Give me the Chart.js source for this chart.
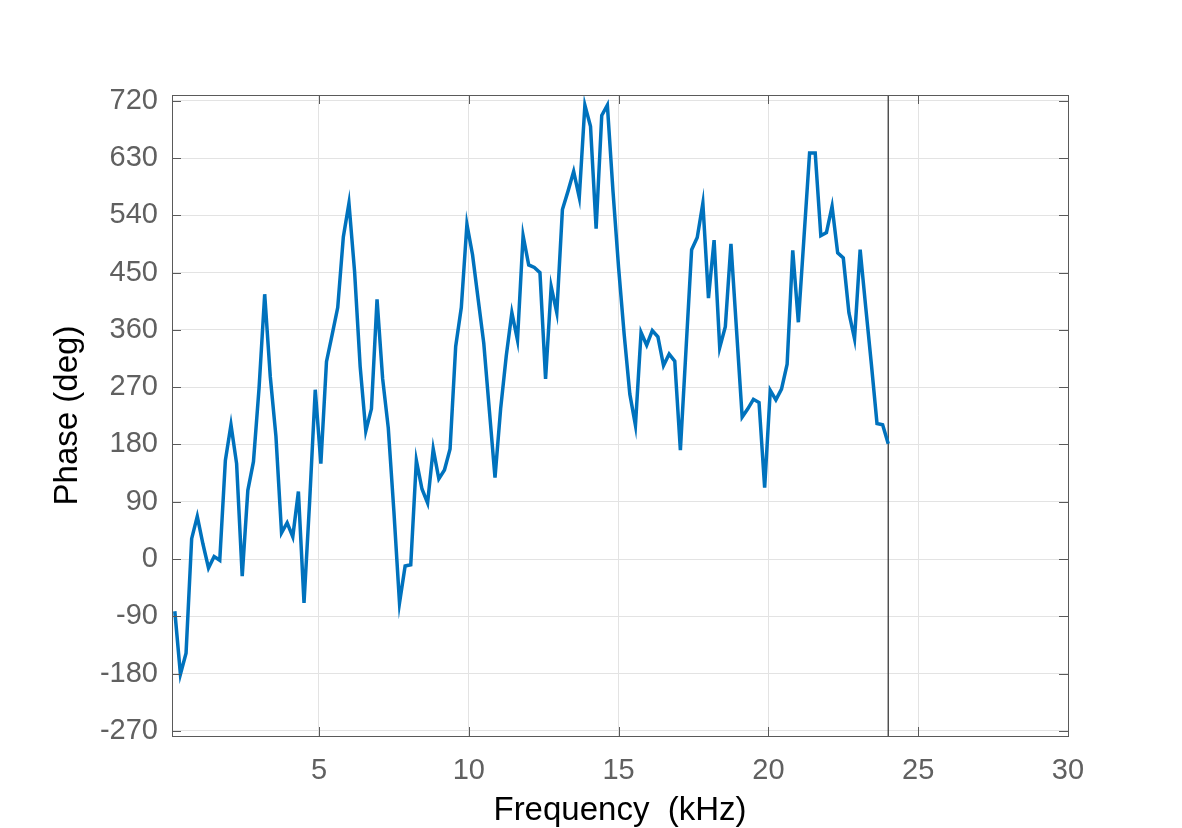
<!DOCTYPE html>
<html>
<head>
<meta charset="utf-8">
<script src="https://cdn.jsdelivr.net/npm/chart.js@4/dist/chart.umd.min.js"></script>
<style>
  html, body { margin: 0; padding: 0; background: #fff; }
  #wrap { width: 1182px; height: 828px; }
</style>
</head>
<body>
<div id="wrap"><canvas id="phaseChart" width="1182" height="828"></canvas></div>
<script>
// frequency bins (kHz)
var freqKHz = [
  0.1875, 0.375, 0.5625, 0.75, 0.9375, 1.125, 1.3125, 1.5, 1.6875, 1.875,
  2.0625, 2.25, 2.4375, 2.625, 2.8125, 3, 3.1875, 3.375, 3.5625, 3.75,
  3.9375, 4.125, 4.3125, 4.5, 4.6875, 4.875, 5.0625, 5.25, 5.4375, 5.625,
  5.8125, 6, 6.1875, 6.375, 6.5625, 6.75, 6.9375, 7.125, 7.3125, 7.5,
  7.6875, 7.875, 8.0625, 8.25, 8.4375, 8.625, 8.8125, 9, 9.1875, 9.375,
  9.5625, 9.75, 9.9375, 10.125, 10.3125, 10.5, 10.6875, 10.875, 11.0625, 11.25,
  11.4375, 11.625, 11.8125, 12, 12.1875, 12.375, 12.5625, 12.75, 12.9375, 13.125,
  13.3125, 13.5, 13.6875, 13.875, 14.0625, 14.25, 14.4375, 14.625, 14.8125, 15,
  15.1875, 15.375, 15.5625, 15.75, 15.9375, 16.125, 16.3125, 16.5, 16.6875, 16.875,
  17.0625, 17.25, 17.4375, 17.625, 17.8125, 18, 18.1875, 18.375, 18.5625, 18.75,
  18.9375, 19.125, 19.3125, 19.5, 19.6875, 19.875, 20.0625, 20.25, 20.4375, 20.625,
  20.8125, 21, 21.1875, 21.375, 21.5625, 21.75, 21.9375, 22.125, 22.3125, 22.5,
  22.6875, 22.875, 23.0625, 23.25, 23.4375, 23.625, 23.8125, 24
];

// unwrapped phase (deg)
var phaseDeg = [
  -82, -181, -148, 32, 67, 24, -14, 4, -2, 155,
  211, 150, -27, 108, 153, 269, 416, 286, 193, 41,
  57, 35, 106, -69, 90, 266, 150, 310, 352, 395,
  506, 559, 452, 302, 201, 236, 408, 283, 206, 75,
  -69, -11, -9, 155, 110, 88, 173, 126, 140, 173,
  334, 395, 526, 478, 408, 339, 233, 128, 236, 319,
  387, 344, 508, 462, 458, 450, 283, 428, 387, 549,
  578, 609, 568, 713, 680, 519, 697, 713, 578, 458,
  352, 259, 210, 356, 336, 359, 349, 304, 322, 311,
  171, 329, 486, 505, 559, 410, 501, 332, 365, 495,
  359, 223, 236, 251, 246, 112, 265, 250, 267, 306,
  485, 372, 505, 638, 638, 508, 513, 554, 481, 473,
  387, 346, 486, 395, 306, 213, 211, 181
];

var xTicks = [5, 10, 15, 20, 25, 30];
var yTicks = [-270, -180, -90, 0, 90, 180, 270, 360, 450, 540, 630, 720];
var xRange = [0.09375, 30];
var yRange = [-278, 729];
var nyquistKHz = 24;

var linePoints = freqKHz.map(function(f, i) {
    return { x: f, y: phaseDeg[i] };
});

// MATLAB style box with inward ticks
var boxPlugin = {
    id: 'boxPlugin',
    afterDraw: function(chart) {
        var ctx = chart.ctx;
        var a = chart.chartArea;
        var xs = chart.scales.x, ys = chart.scales.y;
        var tl = 9;
        ctx.save();
        ctx.strokeStyle = '#5a5a5a';
        ctx.lineWidth = 1;
        ctx.beginPath();
        xTicks.forEach(function(v) {
            var px = Math.round(xs.getPixelForValue(v)) + 0.5;
            ctx.moveTo(px, a.bottom); ctx.lineTo(px, a.bottom - tl);
            ctx.moveTo(px, a.top); ctx.lineTo(px, a.top + tl);
        });
        yTicks.forEach(function(v) {
            var py = Math.round(ys.getPixelForValue(v)) + 0.5;
            ctx.moveTo(a.left, py); ctx.lineTo(a.left + tl, py);
            ctx.moveTo(a.right, py); ctx.lineTo(a.right - tl, py);
        });
        ctx.stroke();
        ctx.strokeRect(Math.round(a.left) + 0.5, Math.round(a.top) + 0.5,
            Math.round(a.right - a.left), Math.round(a.bottom - a.top));
        ctx.restore();
    }
};

var ctx = document.getElementById('phaseChart').getContext('2d');
new Chart(ctx, {
    type: 'line',
    data: {
        datasets: [{
            data: linePoints,
            borderColor: '#0072BD',
            borderWidth: 3.5,
            pointRadius: 0,
            tension: 0,
            fill: false
        }, {
            data: [{ x: nyquistKHz, y: yRange[0] }, { x: nyquistKHz, y: yRange[1] }],
            borderColor: '#3a3a3a',
            borderWidth: 1.3,
            pointRadius: 0,
            fill: false
        }]
    },
    options: {
        responsive: false,
        animation: false,
        layout: { padding: { left: 0, right: 114, top: 95, bottom: 0 } },
        plugins: {
            legend: { display: false },
            tooltip: { enabled: false }
        },
        scales: {
            x: {
                type: 'linear',
                min: xRange[0],
                max: xRange[1],
                afterBuildTicks: function(scale) {
                    scale.ticks = xTicks.map(function(v) { return { value: v }; });
                },
                afterFit: function(scale) { scale.height = 92; },
                grid: { color: '#e3e3e3', drawTicks: false },
                border: { display: false },
                ticks: {
                    color: '#606060',
                    padding: 18,
                    maxRotation: 0,
                    font: { family: 'Liberation Sans, Arial, sans-serif', size: 29 }
                },
                title: {
                    display: true,
                    text: 'Frequency  (kHz)',
                    color: '#000',
                    padding: { top: 0, bottom: 1 },
                    font: { family: 'Liberation Sans, Arial, sans-serif', size: 33, lineHeight: 1.0 }
                }
            },
            y: {
                type: 'linear',
                min: yRange[0],
                max: yRange[1],
                afterBuildTicks: function(scale) {
                    scale.ticks = yTicks.map(function(v) { return { value: v }; });
                },
                afterFit: function(scale) { scale.width = 172; },
                grid: { color: '#e3e3e3', drawTicks: false },
                border: { display: false },
                ticks: {
                    color: '#606060',
                    padding: 14,
                    font: { family: 'Liberation Sans, Arial, sans-serif', size: 29 }
                },
                title: {
                    display: true,
                    text: 'Phase (deg)',
                    color: '#000',
                    padding: { top: 48, bottom: 0 },
                    font: { family: 'Liberation Sans, Arial, sans-serif', size: 33 }
                }
            }
        }
    },
    plugins: [boxPlugin]
});
</script>
</body>
</html>
